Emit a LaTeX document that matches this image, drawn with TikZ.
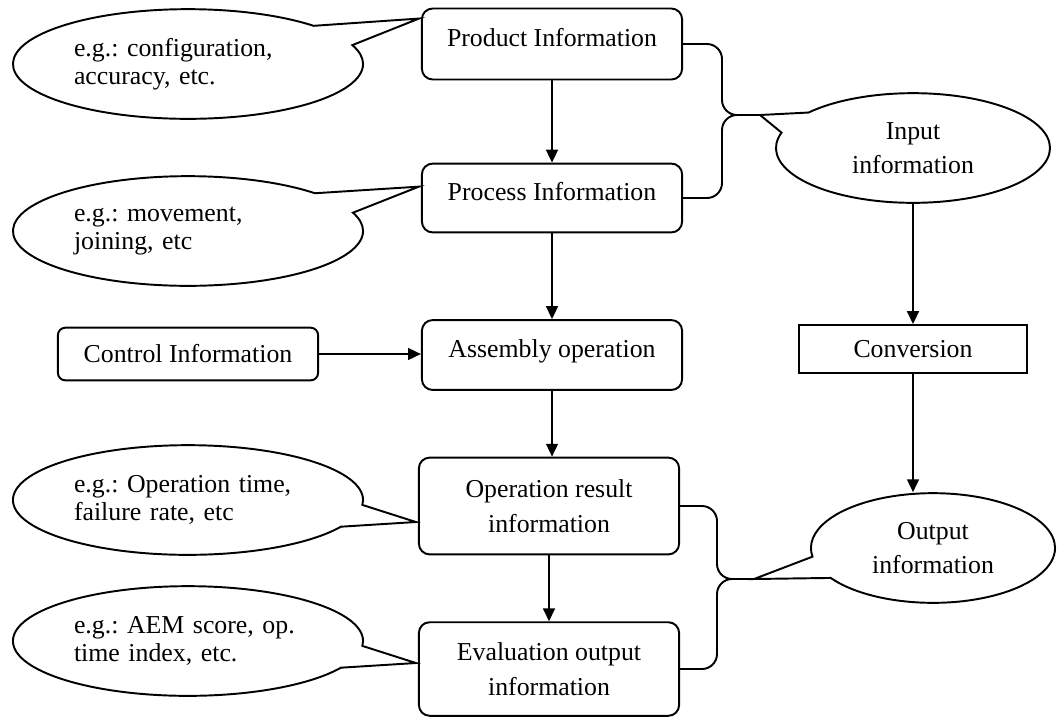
\documentclass[tikz,border=0pt]{standalone}
\usepackage{fontspec}
\setmainfont{Liberation Serif}
\usetikzlibrary{arrows.meta,shapes.callouts,calc}

\tikzset{
  infobox/.style={draw, rounded corners=5pt, line width=0.9pt, minimum width=121pt, align=center, font=\fontsize{12}{16}\selectfont},
  plainbox/.style={draw, line width=0.9pt, minimum width=106pt, align=center, font=\fontsize{12}{16}\selectfont},
  onerow/.style={text height=9pt, text depth=6.4pt},
  note/.style={draw, ellipse callout, line width=0.9pt, callout pointer arc=24, minimum width=162.8pt, minimum height=51pt, text width=106pt, align=left, font=\fontsize{12}{12.8}\selectfont\frenchspacing},
  bubble/.style={draw, ellipse callout, line width=0.9pt, callout pointer arc=24, minimum height=51pt, align=center, font=\fontsize{12}{16}\selectfont},
  flow/.style={-{Triangle[length=6pt,width=5.5pt]}, line width=0.9pt},
  brace/.style={line width=0.9pt, rounded corners=7pt}
}

\begin{document}
\begin{tikzpicture}[x=0.465pt,y=-0.465pt]
  \useasboundingbox (0,0) rectangle (1062,717);
  % middle column
  \node[infobox,onerow,minimum height=33pt] (prod) at (552,44) {Product Information};
  \node[infobox,onerow,minimum height=32pt] (proc) at (552,198) {Process Information};
  \node[infobox,onerow,minimum height=32.5pt] (asm) at (552,355) {Assembly operation};
  \node[infobox,minimum height=45pt] (opres) at (549,506) {Operation result\\information};
  \node[infobox,minimum height=43.5pt] (evalout) at (549,669) {Evaluation output\\information};
  \node[infobox,rounded corners=3.5pt,minimum height=24.5pt] (ctrl) at (188,354) {Control Information};
  \node[plainbox,minimum height=22.3pt] (conv) at (913,349) {Conversion};
  % brace tips
  \coordinate (intip) at (760,115);
  \coordinate (outtip) at (754,579);
  % examples
  \node[note,callout absolute pointer={($(prod.north west)+(-2,11)$)}] (egprod) at (188,64) {e.g.: configuration,\\accuracy, etc.};
  \node[note,callout absolute pointer={($(proc.north west)+(-2,24)$)}] (egproc) at (188,231) {e.g.: movement,\\joining, etc};
  \node[note,callout absolute pointer={($(opres.west)+(-2,16)$)}] (egres) at (188,500) {e.g.: Operation time,\\failure rate, etc};
  \node[note,callout absolute pointer={($(evalout.west)+(-2,-6)$)}] (egeval) at (188,641) {e.g.: AEM score, op.\\time index, etc.};
  % input / output
  \node[bubble,minimum width=127.4pt,callout absolute pointer={(intip)}] (inpt) at (913,148) {Input\\information};
  \node[bubble,minimum width=113.5pt,callout absolute pointer={(outtip)}] (outp) at (933,548) {Output\\information};
  % braces
  \draw[brace] (prod.east) -| ($(intip)+(-38,0)$) -- (intip);
  \draw[brace] (intip) -- ($(intip)+(-38,0)$) |- (proc.east);
  \draw[brace] (opres.east) -| ($(outtip)+(-37,0)$) -- (outtip);
  \draw[brace] (outtip) -- ($(outtip)+(-37,0)$) |- (evalout.east);
  % arrows
  \draw[flow] (prod) -- (proc);
  \draw[flow] (proc) -- (asm);
  \draw[flow] (asm.south) -- (asm.south |- opres.north);
  \draw[flow] (opres) -- (evalout);
  \draw[flow] (ctrl.east) -- (ctrl.east -| asm.west);
  \draw[flow] (inpt.south) -- (conv.north);
  \draw[flow] (conv.south) -- (conv.south |- outp.north);
\end{tikzpicture}
\end{document}
